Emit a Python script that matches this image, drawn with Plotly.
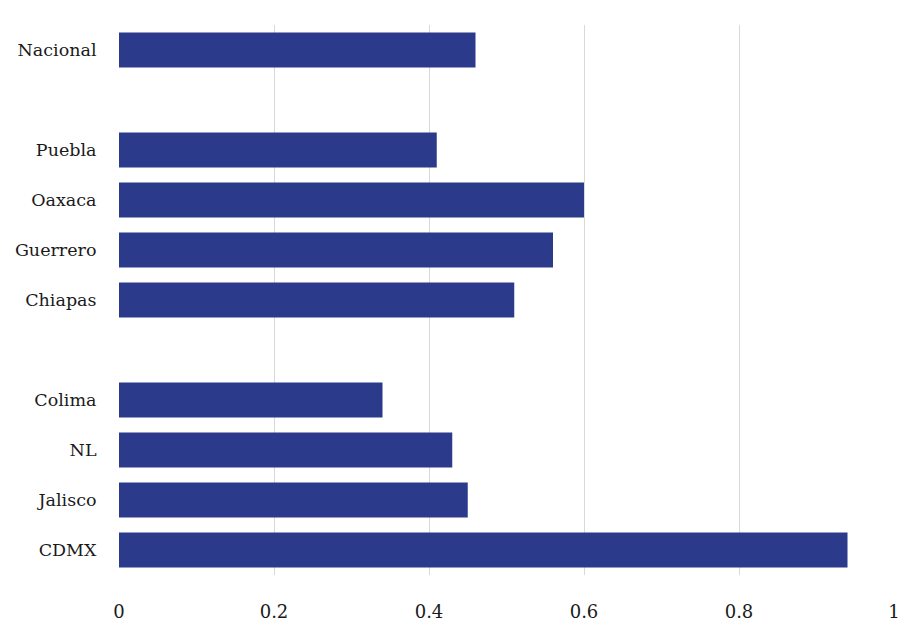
import plotly.graph_objects as go

categories = ["CDMX", "Jalisco", "NL", "Colima", " ", "Chiapas", "Guerrero", "Oaxaca", "Puebla", "  ", "Nacional"]
values = [0.94, 0.45, 0.43, 0.34, None, 0.51, 0.56, 0.60, 0.41, None, 0.46]
tick_vals = [0, 0.2, 0.4, 0.6, 0.8, 1]
tick_text = ["0", "0.2", "0.4", "0.6", "0.8", "1"]

fig = go.Figure(go.Bar(
    x=values, y=categories, orientation="h",
    marker=dict(color="#2B3A8B", line=dict(width=0)),
))
fig.update_layout(
    width=914, height=633,
    margin=dict(l=111, r=28, t=17, b=66),
    paper_bgcolor="white", plot_bgcolor="white",
    bargap=0.3,
    showlegend=False,
    font=dict(family="DejaVu Serif", size=17, color="#1a1a1a"),
)
fig.update_xaxes(
    range=[0, 1], tickvals=tick_vals, ticktext=tick_text,
    showgrid=True, gridcolor="#D9D9D9", gridwidth=1,
    zeroline=False, showline=False, automargin=False,
    ticks="outside", ticklen=20, tickcolor="rgba(0,0,0,0)",
    tickfont=dict(size=18),
)
fig.update_yaxes(
    type="category", categoryorder="array", categoryarray=categories,
    showgrid=False, zeroline=False, showline=False, automargin=False,
    ticks="outside", ticklen=18, tickcolor="rgba(0,0,0,0)",
    tickfont=dict(size=17.5),
)
fig.write_html("out.html")
